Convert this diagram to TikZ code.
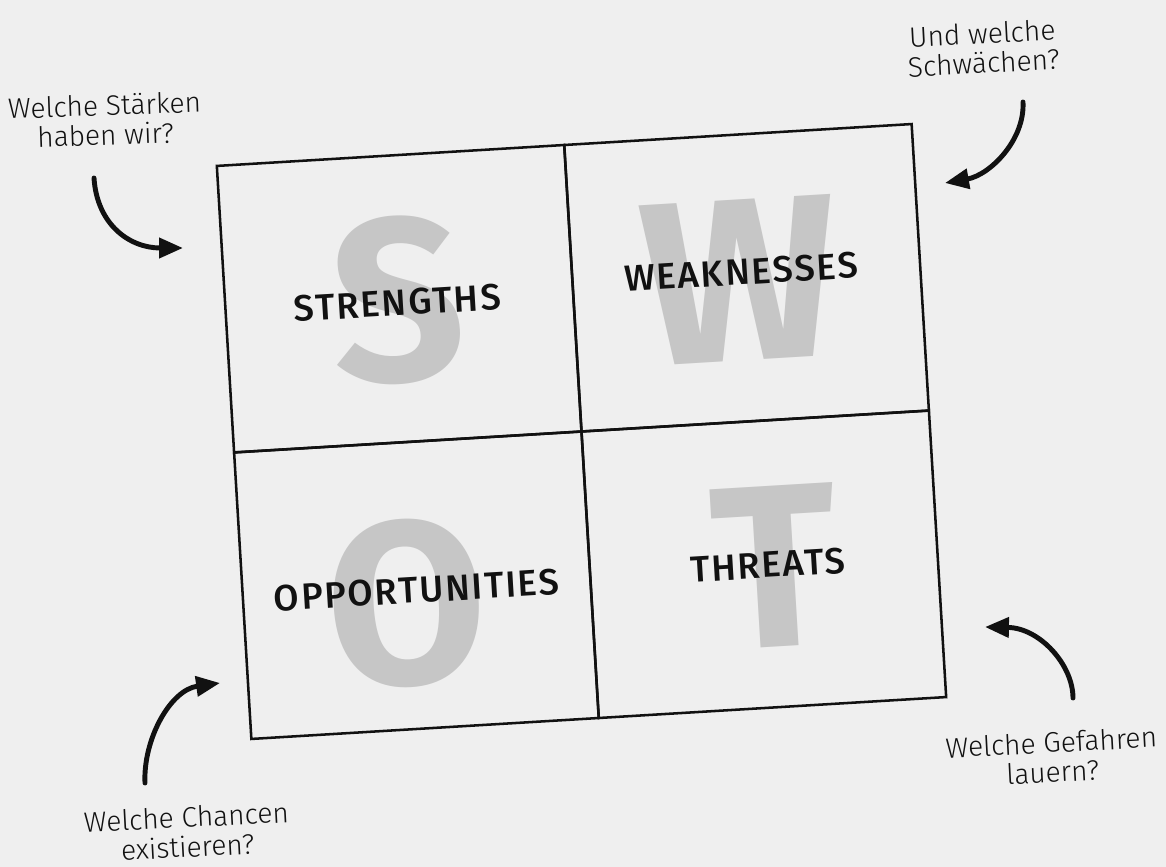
\documentclass[tikz,border=0pt]{standalone}
\usepackage{fontspec}
\setmainfont{Fira Sans}
\newfontfamily\thinfont{Fira Sans Light}
\newfontfamily\titlefont{Fira Sans Medium}[LetterSpace=5]
\usetikzlibrary{arrows.meta}

\definecolor{paper}{HTML}{EFEFEF}
\definecolor{ghostgray}{HTML}{C6C6C6}
\definecolor{ink}{HTML}{111111}

\tikzset{
  cell/.style={draw=ink, line width=1.8pt, minimum width=8.7cm, minimum height=7.175cm, transform shape},
  ghost/.style={text=ghostgray, font=\fontsize{165}{165}\selectfont\bfseries, inner sep=0pt, transform shape},
  celltitle/.style={text=ink, font=\titlefont\fontsize{26}{30}\selectfont, transform shape},
  question/.style={text=ink, align=center, font=\thinfont\fontsize{20}{21}\selectfont},
  pointer/.style={draw=ink, line width=3.5pt, line cap=round, -{Triangle[length=17pt,width=14pt]}}
}

\begin{document}
\begin{tikzpicture}[x=0.025cm, y=-0.025cm]
  \fill[paper] (0,0) rectangle (1166,867);
  \useasboundingbox (0,0) rectangle (1166,867);

  % SWOT grid, tilted a little
  \begin{scope}[shift={(581.5,431.5)}, rotate=3.45]
    \node[ghost] (gs) at (-175,-142.5) {S};
    \node[ghost] (gw) at (167,-141.5) {W};
    \node[ghost] (go) at (-185,161.5) {O};
    \node[ghost] (gt) at (185,146.5) {T};

    \node[cell] (strengths) at (-174,-143.5) {};
    \node[cell] (weaknesses) at (174,-143.5) {};
    \node[cell] (opportunities) at (-174,143.5) {};
    \node[cell] (threats) at (174,143.5) {};

    \node[celltitle] (ts) at (-176,-139.5) {STRENGTHS};
    \node[celltitle] (tw) at (169,-149.5) {WEAKNESSES};
    \node[celltitle] (to) at (-174,148.5) {OPPORTUNITIES};
    \node[celltitle] (tt) at (178,144.5) {THREATS};
  \end{scope}

  % questions
  \node[question, rotate=2] (qs) at (105,120) {Welche Stärken\\haben wir?};
  \node[question, rotate=3] (qw) at (983,48) {Und welche\\Schwächen?};
  \node[question, rotate=3] (qo) at (187,832) {Welche Chancen\\existieren?};
  \node[question, rotate=3] (qt) at (1052,757) {Welche Gefahren\\lauern?};

  % arrows
  \coordinate (as1) at (94,178);   \coordinate (as2) at (183,248);
  \coordinate (aw1) at (1023,102); \coordinate (aw2) at (945,183);
  \coordinate (ao1) at (145,783);  \coordinate (ao2) at (220,683);
  \coordinate (at1) at (1073,698); \coordinate (at2) at (985,627);
  \draw[pointer] (as1) .. controls (97,225) and (130,248) .. (as2);
  \draw[pointer] (aw1) .. controls (1025,140) and (990,175) .. (aw2);
  \draw[pointer] (ao1) .. controls (143,740) and (170,690) .. (ao2);
  \draw[pointer] (at1) .. controls (1073,665) and (1040,628) .. (at2);
\end{tikzpicture}
\end{document}
